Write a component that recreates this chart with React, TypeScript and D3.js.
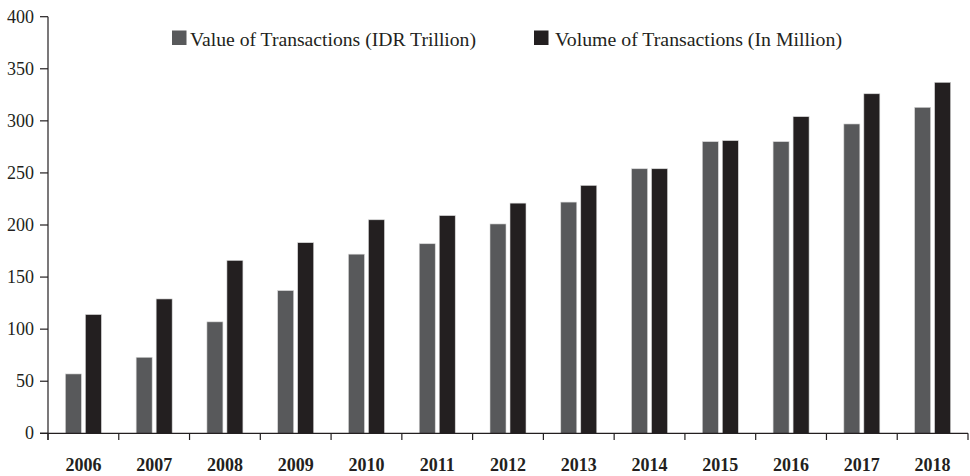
import React from "react";
import * as d3 from "d3";

const years = ["2006","2007","2008","2009","2010","2011","2012","2013","2014","2015","2016","2017","2018"];
const valueTrillion = [57, 73, 107, 137, 172, 182, 201, 222, 254, 280, 280, 297, 313];
const volumeMillion = [114, 129, 166, 183, 205, 209, 221, 238, 254, 281, 304, 326, 337];
const seriesNames = ["Value of Transactions (IDR Trillion)", "Volume of Transactions (In Million)"];
const seriesColors = ["#58595b", "#231f20"];
const yTicks = [0, 50, 100, 150, 200, 250, 300, 350, 400];

export default function App() {
  const W = 970, H = 476;
  const x0 = d3.scaleBand<string>().domain(years).range([48, 968]).padding(0);
  const bw = x0.bandwidth();
  const x1 = d3.scaleBand<number>().domain([0, 1]).range([bw / 2 - 18, bw / 2 + 18]).paddingInner(0.2).paddingOuter(0);
  const y = d3.scaleLinear().domain([0, 400]).range([433.3, 16.7]);
  const data = [valueTrillion, volumeMillion];
  const font = "'Liberation Serif', 'DejaVu Serif', serif";
  const boundaries = years.map((d) => x0(d)!).concat([x0.range()[1]]);

  return (
    <svg width={W} height={H} style={{ position: "absolute", left: 0, top: 0, background: "#fff" }} fontFamily={font}>
      {years.map((yr, i) => (
        <g key={yr} transform={`translate(${x0(yr)},0)`}>
          {data.map((s, j) => (
            <rect
              key={j}
              x={x1(j)}
              y={y(s[i])}
              width={x1.bandwidth()}
              height={y(0) - y(s[i])}
              fill={seriesColors[j]}
              stroke="#d8d8d8"
              strokeWidth={0.6}
            />
          ))}
          <text x={bw / 2} y={471} textAnchor="middle" fontSize={18} fontWeight="bold" fill="#231f20">{yr}</text>
        </g>
      ))}
      {/* y axis */}
      <line x1={48} x2={48} y1={y(400)} y2={440} stroke="#231f20" strokeWidth={1.2} />
      {yTicks.map((t) => (
        <g key={t}>
          <line x1={40} x2={48} y1={y(t)} y2={y(t)} stroke="#231f20" strokeWidth={1.2} />
          <text x={34} y={y(t)} dy="0.34em" textAnchor="end" fontSize={18} fill="#231f20">{t}</text>
        </g>
      ))}
      {/* x axis */}
      <line x1={40} x2={968} y1={y(0)} y2={y(0)} stroke="#231f20" strokeWidth={1.2} />
      {boundaries.map((b, i) => (
        <line key={i} x1={b} x2={b} y1={y(0)} y2={440} stroke="#231f20" strokeWidth={1.2} />
      ))}
      {/* legend */}
      <g>
        <rect x={172} y={30.5} width={14.5} height={14.5} fill={seriesColors[0]} />
        <text x={190} y={46} fontSize={19} fill="#231f20" textLength={286} lengthAdjust="spacingAndGlyphs">{seriesNames[0]}</text>
        <rect x={534} y={30.5} width={14.5} height={14.5} fill={seriesColors[1]} />
        <text x={555} y={46} fontSize={19} fill="#231f20" textLength={287} lengthAdjust="spacingAndGlyphs">{seriesNames[1]}</text>
      </g>
    </svg>
  );
}
